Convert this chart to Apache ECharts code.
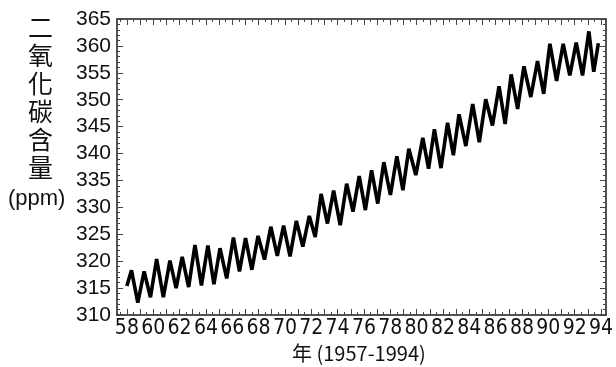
<!DOCTYPE html>
<html><head><meta charset="utf-8">
<script src="https://cdn.jsdelivr.net/npm/echarts@6/dist/echarts.min.js"></script>
<style>html,body{margin:0;padding:0;background:#fff}#c{width:616px;height:367px}</style>
</head><body><div id="c"></div>
<script>
// decimal years (19xx), alternating peak / trough
const years = [58.00,
 58.35,58.83, 59.31,59.79, 60.26,60.77, 61.27,61.74, 62.20,62.69, 63.17,63.66, 64.15,64.61, 65.07,65.58,
 66.09,66.55, 67.01,67.49, 67.96,68.45, 68.93,69.42, 69.90,70.39, 70.87,71.36, 71.85,72.30, 72.75,73.23,
 73.70,74.20, 74.69,75.17, 75.64,76.11, 76.58,77.05, 77.51,78.01, 78.50,78.96, 79.41,79.94, 80.47,80.91,
 81.35,81.85, 82.35,82.79, 83.22,83.74, 84.26,84.76, 85.25,85.76, 86.26,86.72, 87.18,87.67, 88.15,88.67,
 89.18,89.65, 90.12,90.63, 91.13,91.63, 92.12,92.60, 93.08,93.45, 93.80];
const co2 = [315.4,
 318.3,312.3, 318.1,313.3, 320.4,313.3, 320.1,315.0, 320.8,315.2, 323.0,315.5, 322.9,315.7, 322.4,316.8,
 324.4,318.1, 324.3,318.4, 324.7,320.3, 326.4,321.0, 326.6,320.9, 327.5,322.7, 328.4,324.5, 332.5,327.0,
 333.1,326.7, 334.4,329.2, 335.8,329.5, 336.9,330.7, 338.4,332.3, 339.5,333.2, 340.9,336.0, 342.9,337.2,
 344.5,337.3, 345.7,339.7, 347.3,341.4, 349.2,342.1, 350.1,345.2, 352.5,345.5, 354.7,348.3, 356.2,350.5,
 357.2,351.1, 360.4,353.5, 360.4,354.5, 360.6,354.5, 362.7,355.2, 360.5];
const xLabels = [58,60,62,64,66,68,70,72,74,76,78,80,82,84,86,88,90,92,94];
const yMin = 310, yMax = 365, yStep = 5;
const xMin = 57.25, xMax = 94.375;
const yTitle = '二\n氧\n化\n碳\n含\n量';
const yUnit = '(ppm)';
const xTitle = '年 (1957-1994)';

const yearTicks = []; for (let y = 58; y <= 94; y++) yearTicks.push(y);
const halfTicks = []; for (let y = 57.5; y < 94.4; y += 1) halfTicks.push(y);

const narrow = "'Liberation Sans Narrow','DejaVu Sans Condensed','Liberation Sans',sans-serif";
const axisCol = '#1a1a1a';
function xa(pos, long, showLine, labels) {
  return {
    type: 'value', position: pos, min: xMin, max: xMax, gridIndex: 0,
    axisLine: { show: showLine, onZero: false, lineStyle: { color: axisCol, width: 1.5 } },
    axisTick: { show: true, inside: true, length: long ? 6 : 3, customValues: long ? yearTicks : halfTicks,
                lineStyle: { color: '#444', width: 1 } },
    axisLabel: labels ? { show: true, customValues: xLabels, color: '#111', fontSize: 21,
                fontFamily: narrow, margin: 3, formatter: v => String(v) } : { show: false },
    splitLine: { show: false }
  };
}
function ya(pos, labels) {
  return {
    type: 'value', position: pos, min: yMin, max: yMax, interval: yStep,
    axisLine: { show: true, onZero: false, lineStyle: { color: axisCol, width: 1.5 } },
    axisTick: { show: true, inside: true, length: 6, lineStyle: { color: '#444', width: 1 } },
    minorTick: { show: true, splitNumber: 5, length: 3, lineStyle: { color: '#444', width: 1 } },
    axisLabel: labels ? { show: true, color: '#111', fontSize: 21, margin: 6,
                fontFamily: "'Liberation Sans',Arial,sans-serif" } : { show: false },
    splitLine: { show: false }, minorSplitLine: { show: false }
  };
}
const chart = echarts.init(document.getElementById('c'), null, { renderer: 'canvas' });
chart.setOption({
  animation: false,
  backgroundColor: '#fff',
  grid: { left: 117, right: 4, top: 19, bottom: 52 },
  xAxis: [xa('bottom', true, true, true), xa('bottom', false, false, false),
          xa('top', true, true, false), xa('top', false, false, false)],
  yAxis: [ya('left', true), ya('right', false)],
  series: [{
    type: 'line', xAxisIndex: 0, yAxisIndex: 0,
    data: years.map((y, i) => [y, co2[i]]),
    showSymbol: false, symbol: 'none',
    lineStyle: { color: '#000', width: 3.6, join: 'bevel' }
  }],
  graphic: [
    { type: 'text', left: 28, top: 13, style: { text: yTitle, fontSize: 25, lineHeight: 28,
      fontFamily: "'Noto Sans CJK TC','Noto Sans CJK SC',sans-serif", fill: '#111' } },
    { type: 'text', left: 8, top: 188, style: { text: yUnit, fontSize: 22,
      fontFamily: "'Liberation Sans',Arial,sans-serif", fill: '#111' } },
    { type: 'text', left: 292, top: 343, style: { text: xTitle, fontSize: 20,
      fontFamily: "'Noto Sans CJK TC'," + narrow, fill: '#111' } }
  ]
});
</script></body></html>
